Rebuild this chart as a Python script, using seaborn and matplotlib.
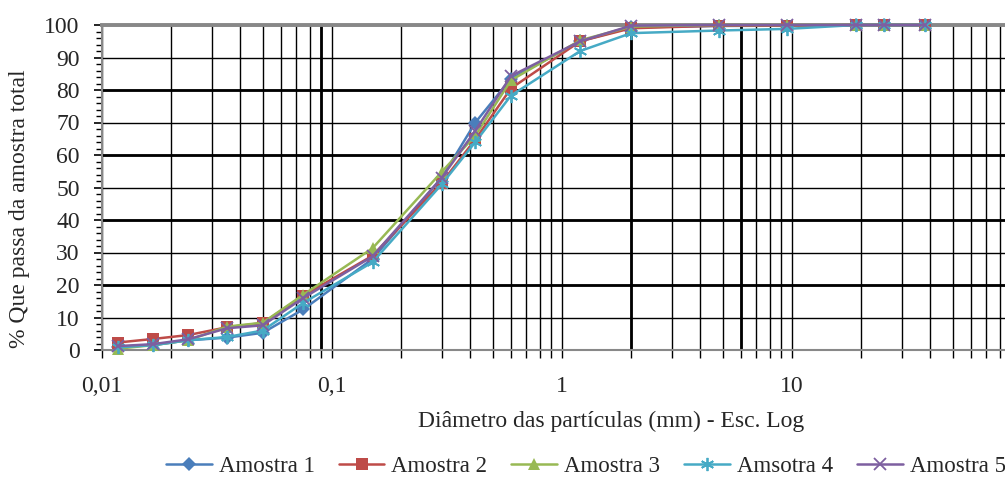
import numpy as np
import pandas as pd
import seaborn as sns
import matplotlib
import matplotlib.pyplot as plt
from matplotlib.ticker import FixedLocator, MultipleLocator, NullFormatter

matplotlib.use("Agg")

# diâmetros (mm) - sedimentação + peneiramento
diametro = [0.0117, 0.0167, 0.0237, 0.035, 0.05, 0.075, 0.15, 0.3, 0.42,
            0.6, 1.2, 2.0, 4.8, 9.5, 19, 25, 38]

amostra_1 = [1.0, 1.5, 3.0, 3.8, 5.3, 12.5, 28.0, 53.0, 70.0, 83.5, 95.0,
             99.3, 99.7, 99.8, 100, 100, 100]
amostra_2 = [2.3, 3.4, 4.6, 7.0, 8.3, 16.7, 29.0, 51.5, 64.8, 80.5, 95.0,
             99.0, 99.8, 99.8, 100, 100, 100]
amostra_3 = [0.4, 1.5, 3.0, 7.2, 8.4, 17.0, 31.3, 54.8, 66.0, 83.0, 95.3,
             99.5, 100, 100, 100, 100, 100]
amostra_4 = [0.8, 1.5, 3.0, 4.0, 6.0, 14.5, 27.0, 51.0, 64.0, 78.3, 92.0,
             97.5, 98.3, 98.8, 100, 100, 100]
amostra_5 = [1.2, 1.8, 3.3, 6.7, 7.6, 16.0, 28.8, 53.0, 67.5, 84.3, 95.0,
             99.8, 100, 100, 100, 100, 100]

nomes = ["Amostra 1", "Amostra 2", "Amostra 3", "Amsotra 4", "Amostra 5"]
valores = [amostra_1, amostra_2, amostra_3, amostra_4, amostra_5]
cores = ["#4A7EBB", "#BE4B48", "#98B954", "#46AAC5", "#7D5FA0"]
marcadores = ["D", "s", "^", (6, 2, 0), "x"]
tamanhos = [7, 8.5, 8.5, 9.5, 8]

xticks = [0.01, 0.1, 1, 10, 100]
xtick_labels = ["0,01", "0,1", "1", "10", ""]

sns.set_style("white")
plt.rcParams["font.family"] = ["Liberation Serif", "DejaVu Serif"]

fig = plt.figure(figsize=(10.05, 4.79), dpi=100)
ax = fig.add_axes([102 / 1005, 1 - 350 / 479, 920 / 1005, 325 / 479])

for nome, v, cor, mk, ms in zip(nomes, valores, cores, marcadores, tamanhos):
    df = pd.DataFrame({"d": diametro, "p": v})
    sns.lineplot(data=df, x="d", y="p", color=cor, marker=mk, markersize=ms,
                 markeredgecolor=cor,
                 markeredgewidth=1.3 if mk in ("x", (6, 2, 0)) else 0,
                 linewidth=1.8, sort=False, label=nome, clip_on=False,
                 zorder=3, ax=ax)

ax.set_xscale("log")
ax.set_xlim(0.01, 100)
ax.set_ylim(0, 100)

ax.xaxis.set_major_locator(FixedLocator(xticks))
ax.set_xticklabels(xtick_labels)
minors = [m * 10.0 ** e for e in range(-2, 2) for m in range(2, 10)]
ax.xaxis.set_minor_locator(FixedLocator(minors))
ax.xaxis.set_minor_formatter(NullFormatter())
ax.yaxis.set_major_locator(MultipleLocator(10))
ax.yaxis.set_minor_locator(MultipleLocator(2))

ax.grid(True, which="both", axis="x", color="black", linewidth=1.0)
ax.grid(True, which="major", axis="y", color="black", linewidth=1.0)
for yy in [20, 40, 60, 80]:
    ax.axhline(yy, color="black", linewidth=2.0, zorder=0.5)
for xx in [0.09, 2, 6]:
    ax.axvline(xx, color="black", linewidth=2.0, zorder=0.5)
ax.set_axisbelow(True)

for lado in ["left", "bottom"]:
    ax.spines[lado].set_color("#888888")
    ax.spines[lado].set_linewidth(1.5)
ax.spines["top"].set_color("#888888")
ax.spines["top"].set_linewidth(2.8)
ax.spines["right"].set_visible(False)

ax.tick_params(axis="x", which="both", direction="out", length=5.5, width=1,
               color="black", bottom=True, pad=13, labelsize=17)
ax.tick_params(axis="y", which="major", direction="out", length=6, width=1.2,
               color="black", left=True, pad=10, labelsize=17)
ax.tick_params(axis="y", which="minor", direction="out", length=4, width=1,
               color="black", left=True)

ax.set_xlabel("")
ax.set_ylabel("")
fig.text(611 / 1005, 1 - 421 / 479, "Diâmetro das partículas (mm) - Esc. Log",
         ha="center", va="center", fontsize=17)
fig.text(20 / 1005, 1 - 209 / 479, "% Que passa da amostra total",
         ha="center", va="center", rotation=90, fontsize=17)

handles, labels = ax.get_legend_handles_labels()
ax.get_legend().remove()
fig.legend(handles, labels, loc="center left", bbox_to_anchor=(166 / 1005, 0.026),
           ncol=5, frameon=False, fontsize=16.5, borderpad=0, borderaxespad=0,
           handlelength=2.0, handletextpad=0.3, columnspacing=1.05)

fig.savefig("out.png", dpi=100)
